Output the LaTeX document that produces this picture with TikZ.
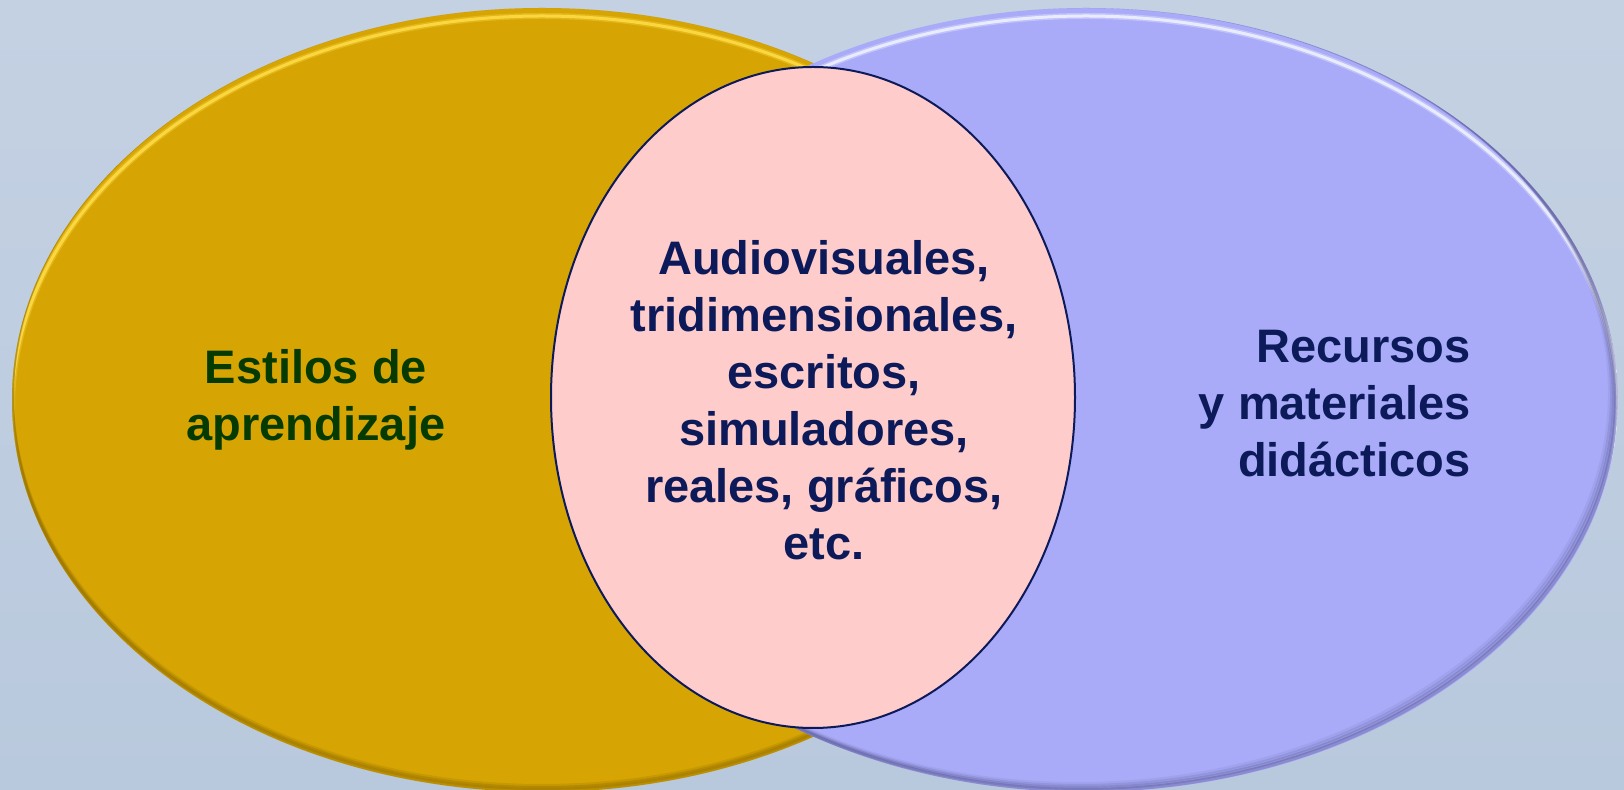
\documentclass[tikz,border=0pt]{standalone}
\usepackage{fontspec}
\setmainfont{Liberation Sans}
\definecolor{bgA}{HTML}{C4D1E3}
\definecolor{bgB}{HTML}{B9C9DD}
\definecolor{goldfill}{HTML}{D6A503}
\definecolor{goldlight}{HTML}{FCD944}
\definecolor{golddark}{HTML}{6E5000}
\definecolor{lavfill}{HTML}{A9ABF8}
\definecolor{lavlight}{HTML}{ECEEFF}
\definecolor{lavdark}{HTML}{44447A}
\definecolor{pinkfill}{HTML}{FFCCCC}
\definecolor{navy}{HTML}{0C1A5A}
\definecolor{dkgreen}{HTML}{053A00}
\begin{document}
\begin{tikzpicture}[x=0.5pt,y=-0.5pt,
  lbl/.style={font=\bfseries\fontsize{23.5}{28.5}\selectfont, inner sep=0pt},
  gold/.style={x radius=530, y radius=392},
  lav/.style={x radius=532, y radius=392}]
\useasboundingbox (0,0) rectangle (1624,790);
\shade[top color=bgA, bottom color=bgB] (0,0) rectangle (1624,790);
% gold ellipse
\fill[goldfill] (542,400) ellipse [gold];
\begin{scope}
  \clip (542,400) ellipse [gold];
  \draw[goldlight, line width=3pt, opacity=.35] (542,408) ellipse [gold];
  \draw[goldlight, line width=1.5pt, opacity=.95] (542,408) ellipse [gold];
  \foreach \s/\o in {2/.25,4/.2,6/.15}
    \draw[golddark, line width=2pt, opacity=\o] (542,400-\s) ellipse [gold];
\end{scope}
% lavender ellipse
\fill[lavfill] (1086,400) ellipse [lav];
\begin{scope}
  \clip (1086,400) ellipse [lav];
  \draw[lavlight, line width=3pt, opacity=.35] (1086,408) ellipse [lav];
  \draw[lavlight, line width=1.5pt, opacity=.95] (1086,408) ellipse [lav];
  \foreach \s/\o in {2/.3,4/.22,6/.15,8/.08}
    \draw[lavdark, line width=2pt, opacity=\o] (1086-\s,400-\s) ellipse [lav];
\end{scope}
% pink ellipse
\draw[navy, line width=1pt, fill=pinkfill] (813,397.5) ellipse [x radius=262, y radius=330.5];
% texts
\node[lbl, text=dkgreen, align=center] (estilos) at (316,399.5) {Estilos de\\aprendizaje};
\node[lbl, text=navy, align=center] (centro) at (824,400.5) {Audiovisuales,\\tridimensionales,\\escritos,\\simuladores,\\reales, gráficos,\\etc.};
\node[lbl, text=navy, align=right, anchor=east] (recursos) at (1471,403.5) {Recursos\hspace{8pt}\\y materiales\\didácticos};
\end{tikzpicture}
\end{document}
